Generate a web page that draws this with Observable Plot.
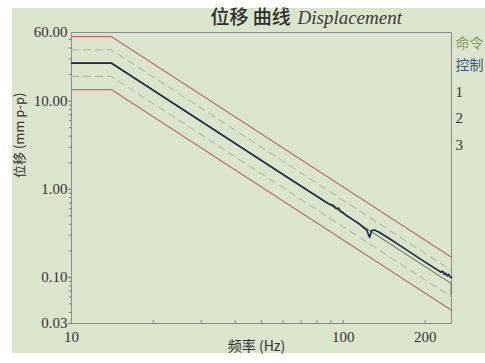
<!DOCTYPE html>
<html><head><meta charset="utf-8">
<script src="https://cdn.jsdelivr.net/npm/d3@7"></script>
<script src="https://cdn.jsdelivr.net/npm/@observablehq/plot@0.6"></script>
<style>
body{margin:0;background:#fff;width:485px;height:363px;overflow:hidden;position:relative}
#bg{position:absolute;left:12px;top:8px;width:473px;height:345px;background:#dbe4cd}
#chart{position:absolute;left:0;top:0}
</style></head><body><div id="bg"></div><div id="chart"></div>
<script>
// Command profile (mm p-p) vertices
const cmdF = [10, 14, 249, 249, 250];
const cmdV = [27, 27, 0.0855, 0.064, 0.0635];
// Alarm / abort limit vertices
const limF = [10, 14, 250];
const hiAbort = [54, 54, 0.169];
const hiAlarm = [38.2, 38.2, 0.1197];
const loAlarm = [19.1, 19.1, 0.0599];
const loAbort = [13.5, 13.5, 0.0423];
// Control (measured) trace
const ctlF = [10, 14, 60, 82, 88, 90, 92, 94, 96, 98, 100, 103, 108, 115, 119, 122, 124, 125, 126, 127, 130, 135, 150, 167, 200, 229, 232, 235, 238, 241, 244, 247, 250];
const ctlV = [27, 27, 1.47, 0.79, 0.69, 0.67, 0.655, 0.605, 0.61, 0.56, 0.54, 0.50, 0.455, 0.40, 0.365, 0.345, 0.30, 0.285, 0.31, 0.34, 0.345, 0.328, 0.267, 0.215, 0.149, 0.1146, 0.118, 0.108, 0.112, 0.104, 0.108, 0.101, 0.100];
// Axis ticks
const yTickLabels = [0.03, 0.1, 1, 10, 60];
const yMinorTicks = [0.04,0.05,0.06,0.07,0.08,0.09,0.2,0.3,0.4,0.5,0.6,0.7,0.8,0.9,2,3,4,5,6,7,8,9,20,30,40,50];
const xTickLabels = [10, 100, 200];
const xMinorTicks = [20,30,40,50,60,70,80,90,100,200];
// Texts
const title = "位移 曲线";
const titleHand = "Displacement";
const yLabel = "位移 (mm p-p)";
const xLabel = "频率 (Hz)";
const legendItems = ["命令", "控制", "1", "2", "3"];
const legendColors = ["#8a9b5c", "#3b5a7c", "#333", "#333", "#333"];
const legendOffsets = [11, 33, 60, 86, 113];

const toPts = (F, V) => F.map((f, i) => ({f, v: V[i]}));
const cmd = toPts(cmdF, cmdV);
const ctl = toPts(ctlF, ctlV);
const lims = [hiAbort, hiAlarm, loAlarm, loAbort].map(a => toPts(limF, a));

const cjk = "'Noto Sans CJK SC', 'DejaVu Sans', sans-serif";
const serif = "'Liberation Serif', 'DejaVu Serif', serif";

const chart = Plot.plot({
  width: 485, height: 363,
  marginLeft: 71, marginRight: 34, marginTop: 32, marginBottom: 40,
  style: {background: "transparent", fontFamily: serif, fontSize: "15px", color: "#333"},
  x: {type: "log", domain: [10, 250]},
  y: {type: "log", domain: [0.03, 60]},
  marks: [
    Plot.frame({stroke: "#8d8d8d", strokeWidth: 1}),
    Plot.line(lims[0], {x: "f", y: "v", stroke: "#b8716b", strokeWidth: 1.2}),
    Plot.line(lims[3], {x: "f", y: "v", stroke: "#b8716b", strokeWidth: 1.2}),
    Plot.line(lims[1], {x: "f", y: "v", stroke: "#a8aea2", strokeWidth: 1, strokeDasharray: "7,5"}),
    Plot.line(lims[2], {x: "f", y: "v", stroke: "#a8aea2", strokeWidth: 1, strokeDasharray: "7,5"}),
    Plot.line(cmd, {x: "f", y: "v", stroke: "#6c7b52", strokeWidth: 1.1}),
    Plot.line(ctl, {x: "f", y: "v", stroke: "#1f2d47", strokeWidth: 1.7}),
    Plot.axisY({ticks: yMinorTicks, tickSize: 2, tickFormat: () => "", stroke: "#777", label: null}),
    Plot.axisY({ticks: yTickLabels.slice(0, 4), tickSize: 3, tickFormat: () => "", stroke: "#777", label: null}),
    Plot.text(yTickLabels, {y: d => d, text: d => d.toFixed(2), frameAnchor: "left", dx: -4, textAnchor: "end", lineAnchor: "middle", fontSize: 15, fontFamily: serif, fill: "#333"}),
    Plot.axisX({ticks: xMinorTicks, tickSize: -3, tickFormat: () => "", stroke: "#888", label: null}),
    Plot.text(xTickLabels, {x: d => d, text: d => String(d), frameAnchor: "bottom", dy: 8, lineAnchor: "top", fontSize: 15, fontFamily: serif, fill: "#333"}),
    Plot.text([title], {frameAnchor: "top-left", dx: 139, dy: -15, textAnchor: "start", lineAnchor: "middle", fontSize: 19, fontWeight: 500, fontFamily: cjk, fill: "#2e2e2e"}),
    Plot.text([titleHand], {frameAnchor: "top-left", dx: 226, dy: -15, textAnchor: "start", lineAnchor: "middle", fontSize: 19, fontStyle: "italic", fontFamily: serif, fill: "#3a3a3a"}),
    Plot.text([yLabel], {frameAnchor: "left", dx: -52, rotate: -90, fontSize: 13, fontFamily: cjk, fill: "#333"}),
    Plot.text([xLabel], {frameAnchor: "bottom", dx: -5, dy: 27, fontSize: 14, fontFamily: cjk, fill: "#333"}),
    ...legendItems.map((t, i) => Plot.text([t], {frameAnchor: "top-right", dx: 4, dy: legendOffsets[i], textAnchor: "start", lineAnchor: "middle", fontSize: i < 2 ? 14 : 15, fontFamily: i < 2 ? cjk : serif, fill: legendColors[i]}))
  ]
});
document.getElementById("chart").appendChild(chart);
</script></body></html>
